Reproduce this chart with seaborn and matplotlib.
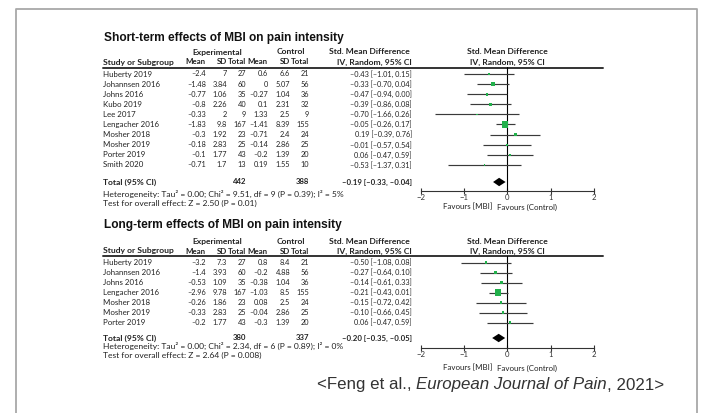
import matplotlib
matplotlib.use("Agg")
import matplotlib.pyplot as plt
import numpy as np
import pandas as pd
import seaborn as sns

# ---- short-term data ----
st_study = ["Huberty 2019", "Johannsen 2016", "Johns 2016", "Kubo 2019", "Lee 2017",
            "Lengacher 2016", "Mosher 2018", "Mosher 2019", "Porter 2019", "Smith 2020"]
st_exp_mean = [-2.4, -1.48, -0.77, -0.8, -0.33, -1.83, -0.3, -0.18, -0.1, -0.71]
st_exp_sd = [7, 3.84, 1.06, 2.26, 2, 9.8, 1.92, 2.83, 1.77, 1.7]
st_exp_n = [27, 60, 35, 40, 9, 167, 23, 25, 43, 13]
st_ctl_mean = [0.6, 0, -0.27, 0.1, 1.33, -1.41, -0.71, -0.14, -0.2, 0.19]
st_ctl_sd = [6.6, 5.07, 1.04, 2.31, 2.5, 8.39, 2.4, 2.86, 1.39, 1.55]
st_ctl_n = [21, 56, 36, 32, 9, 155, 24, 25, 20, 10]
st_smd = [-0.43, -0.33, -0.47, -0.39, -0.70, -0.05, 0.19, -0.01, 0.06, -0.53]
st_lo = [-1.01, -0.70, -0.94, -0.86, -1.66, -0.26, -0.39, -0.57, -0.47, -1.37]
st_hi = [0.15, 0.04, 0.00, 0.08, 0.26, 0.17, 0.76, 0.54, 0.59, 0.31]
st_total = (442, 388, -0.19, -0.33, -0.04)
st_het = "Heterogeneity: Tau\u00b2 = 0.00; Chi\u00b2 = 9.51, df = 9 (P = 0.39); I\u00b2 = 5%"
st_test = "Test for overall effect: Z = 2.50 (P = 0.01)"

# ---- long-term data ----
lt_study = ["Huberty 2019", "Johannsen 2016", "Johns 2016", "Lengacher 2016",
            "Mosher 2018", "Mosher 2019", "Porter 2019"]
lt_exp_mean = [-3.2, -1.4, -0.53, -2.96, -0.26, -0.33, -0.2]
lt_exp_sd = [7.3, 3.93, 1.09, 9.78, 1.86, 2.83, 1.77]
lt_exp_n = [27, 60, 35, 167, 23, 25, 43]
lt_ctl_mean = [0.8, -0.2, -0.38, -1.03, 0.08, -0.04, -0.3]
lt_ctl_sd = [8.4, 4.88, 1.04, 8.5, 2.5, 2.86, 1.39]
lt_ctl_n = [21, 56, 36, 155, 24, 25, 20]
lt_smd = [-0.50, -0.27, -0.14, -0.21, -0.15, -0.10, 0.06]
lt_lo = [-1.08, -0.64, -0.61, -0.43, -0.72, -0.66, -0.47]
lt_hi = [0.08, 0.10, 0.33, 0.01, 0.42, 0.45, 0.59]
lt_total = (380, 337, -0.20, -0.35, -0.05)
lt_het = "Heterogeneity: Tau\u00b2 = 0.00; Chi\u00b2 = 2.34, df = 6 (P = 0.89); I\u00b2 = 0%"
lt_test = "Test for overall effect: Z = 2.64 (P = 0.008)"

sns.set_theme(style="white")
plt.rcParams['font.family'] = ['Lato', 'DejaVu Sans']

W, H = 701, 413
fig = plt.figure(figsize=(W / 100, H / 100), dpi=100)
bg = fig.add_axes([0, 0, 1, 1])
bg.set_xlim(0, W)
bg.set_ylim(H, 0)
bg.axis('off')

# outer frame
bg.plot([16, 16, 697, 697], [420, 9, 9, 420], color='#a8a8a8', lw=1.3)

TXT = '#222222'
GREEN = '#22b04b'
FS_BOLD = 6.1
FS = 5.7
FS_NUM = 5.3
FS_SMALL = 6.1
cols = [206, 227, 246, 268, 290, 309]
X0_PX, X1_PX = 420.7, 594.0


def fmt(v):
    return f"{v:g}".replace('-', '\u2013')


def ci(e, l, h):
    return f"{e:.2f} [{l:.2f}, {h:.2f}]".replace('-', '\u2013')


def panel(title, y_title, y_head, y_head2, y_line, y_row0, dy, y_total, y_het, y_axis, y_fav,
          study, em, esd, en, cm, csd, cn, smd, lo, hi, total, het, test):
    bg.text(104, y_title, title, family='Liberation Sans', fontweight='bold',
            fontsize=8.6, va='center', color='#111111')
    hb = dict(fontweight='bold', fontsize=FS_BOLD, va='center', color=TXT)
    hc = dict(fontweight='bold', fontsize=5.7, va='center', color=TXT)
    hn = dict(fontweight='bold', fontsize=FS_NUM + 0.3, va='center', color=TXT)
    bg.text(217, y_head, "Experimental", ha='center', **hb)
    bg.text(291, y_head, "Control", ha='center', **hb)
    bg.text(369, y_head, "Std. Mean Difference", ha='center', **hb)
    bg.text(507, y_head, "Std. Mean Difference", ha='center', **hb)
    bg.text(103, y_head2, "Study or Subgroup", ha='left', **hb)
    for x, lab in zip(cols, ["Mean", "SD", "Total", "Mean", "SD", "Total"]):
        bg.text(x, y_head2, lab, ha='right', **hc)
    bg.text(412, y_head2, "IV, Random, 95% CI", ha='right', **hb)
    bg.text(507, y_head2, "IV, Random, 95% CI", ha='center', **hb)
    bg.plot([103, 603], [y_line, y_line], color='#333333', lw=1.4)

    rb = dict(fontsize=FS, va='center', color=TXT)
    rn = dict(fontsize=FS_NUM, va='center', color=TXT)
    for i in range(len(study)):
        y = y_row0 + i * dy
        bg.text(103, y, study[i], ha='left', **rb)
        vals = [em[i], esd[i], en[i], cm[i], csd[i], cn[i]]
        for x, v in zip(cols, vals):
            bg.text(x, y, fmt(v), ha='right', **rn)
        bg.text(412, y, ci(smd[i], lo[i], hi[i]), ha='right', **rn)

    bg.text(103, y_total, "Total (95% CI)", ha='left', **hb)
    bg.text(cols[2], y_total, str(total[0]), ha='right', **hn)
    bg.text(cols[5], y_total, str(total[1]), ha='right', **hn)
    bg.text(412, y_total, ci(*total[2:]), ha='right', **hn)
    bg.text(103, y_het, het, ha='left', fontsize=FS_SMALL, va='center', color=TXT)
    bg.text(103, y_het + 9, test, ha='left', fontsize=FS_SMALL, va='center', color=TXT)

    # forest plot axes
    ax = fig.add_axes([X0_PX / W, 1 - y_axis / H, (X1_PX - X0_PX) / W, (y_axis - y_line) / H])
    ax.patch.set_alpha(0)
    n = len(study)
    rows = np.arange(n)
    se = (np.array(hi) - np.array(lo)) / (2 * 1.96)
    df = pd.DataFrame({'smd': smd, 'row': rows, 'w': 1 / se ** 2})
    ax.hlines(df['row'], lo, hi, color='#3a3a3a', lw=0.85, zorder=2)
    sns.scatterplot(data=df, x='smd', y='row', size='w', sizes=(0, 20), size_norm=(0, 85),
                    marker='s', color=GREEN, linewidth=0, legend=False, ax=ax, zorder=3)
    ax.axvline(0, color='black', lw=0.8, zorder=1)
    yt = (y_total - y_row0) / dy
    e, l, h = total[2:]
    hh = 4.2 / dy
    ax.fill([l, e, h, e], [yt, yt - hh, yt, yt + hh], color='black', lw=0, zorder=3)
    ax.set_xlim(-2, 2)
    ax.set_ylim((y_axis - y_row0) / dy, (y_line - y_row0) / dy)
    ax.set_xticks([-2, -1, 0, 1, 2])
    ax.set_yticks([])
    ax.set_xlabel('')
    ax.set_ylabel('')
    for s in ['top', 'left', 'right']:
        ax.spines[s].set_visible(False)
    ax.spines['bottom'].set_color('#333333')
    ax.spines['bottom'].set_linewidth(0.8)
    ax.tick_params(axis='x', direction='inout', length=4, width=0.8, labelsize=5.6,
                   pad=0.5, colors='#333333', bottom=True)
    bg.text(492, y_fav, "Favours [MBI]", ha='right', fontsize=FS, va='center', color=TXT)
    bg.text(497, y_fav, "Favours (Control)", ha='left', fontsize=FS, va='center', color=TXT)


panel("Short-term effects of MBI on pain intensity", 38, 52, 62, 67.5, 74, 10.1, 182, 194, 191, 207,
      st_study, st_exp_mean, st_exp_sd, st_exp_n, st_ctl_mean, st_ctl_sd, st_ctl_n,
      st_smd, st_lo, st_hi, st_total, st_het, st_test)
panel("Long-term effects of MBI on pain intensity", 225, 241.5, 251, 256, 262.5, 10, 338, 346, 348, 368,
      lt_study, lt_exp_mean, lt_exp_sd, lt_exp_n, lt_ctl_mean, lt_ctl_sd, lt_ctl_n,
      lt_smd, lt_lo, lt_hi, lt_total, lt_het, lt_test)

# caption with italic journal name
cap = dict(family='Liberation Sans', fontsize=12.2, color='#333333')
t1 = bg.text(317, 385, "<Feng et al., ", va='center', ha='left', **cap)
t2 = bg.annotate("European Journal of Pain", xy=(1, 0), xycoords=t1, va='bottom', ha='left',
                 style='italic', **cap)
bg.annotate(", 2021>", xy=(1, 0), xycoords=t2, va='bottom', ha='left', **cap)

fig.savefig('out.png', dpi=100)
